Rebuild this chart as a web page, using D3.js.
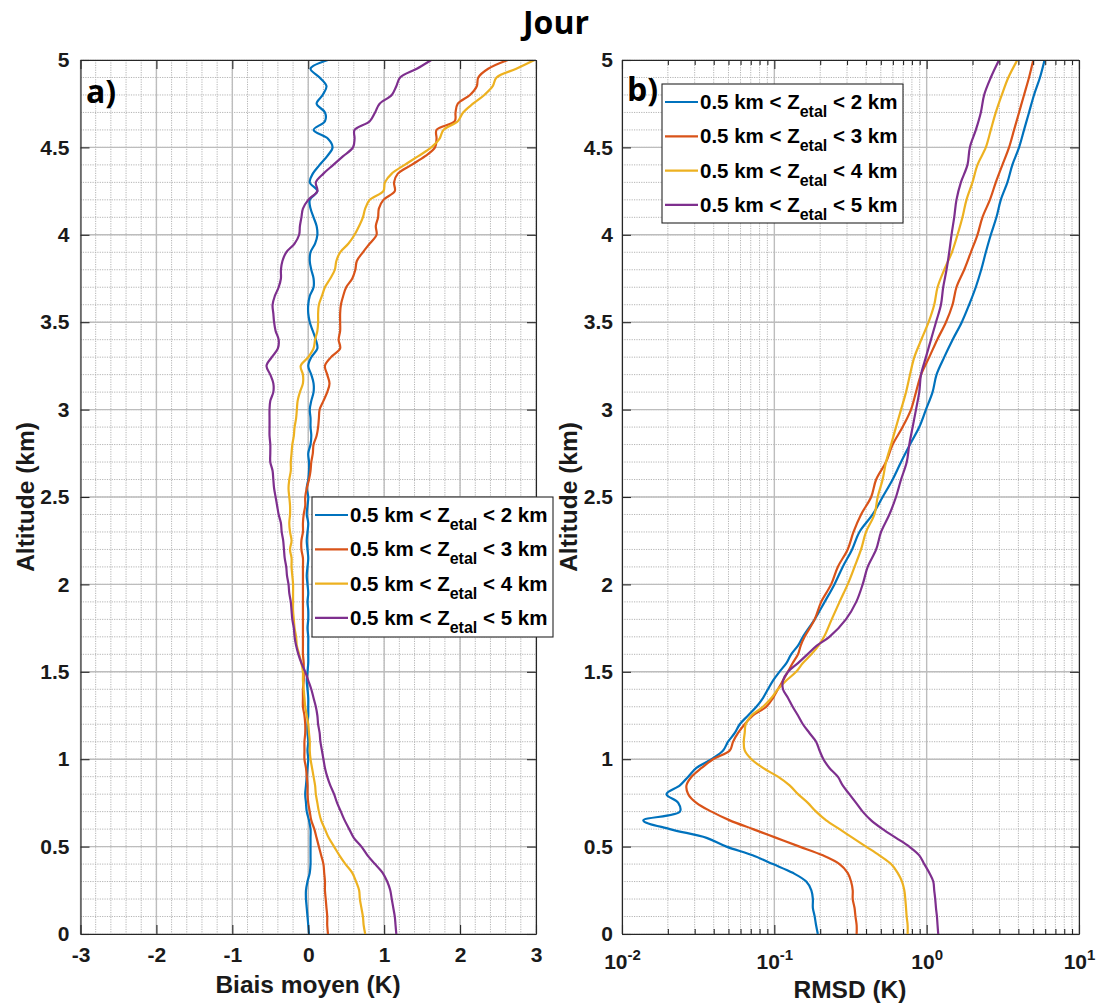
<!DOCTYPE html>
<html><head><meta charset="utf-8">
<script src="https://cdn.jsdelivr.net/npm/d3@7"></script>
<style>body{margin:0;background:#fff}svg{display:block}</style>
</head><body>
<svg id="chart" width="1099" height="1005"></svg>
<script>
// ---------------- DATA ----------------
const title = "Jour";
const seriesNames = ["0.5 km < Zetal < 2 km","0.5 km < Zetal < 3 km","0.5 km < Zetal < 4 km","0.5 km < Zetal < 5 km"];
const seriesUpper = ["2","3","4","5"];
const seriesColors = ["#0072BD","#D95319","#EDB120","#7E2F8E"];

const biasTicks = [-3,-2,-1,0,1,2,3];
const altTicks = [0,0.5,1,1.5,2,2.5,3,3.5,4,4.5,5];
const rmsdTicks = [0.01,0.1,1,10];
const rmsdTickExp = ["-2","-1","0","1"];

// altitude (km) for panel a
const altA = [0,0.05,0.1,0.15,0.2,0.25,0.3,0.35,0.4,0.45,0.5,0.55,0.6,0.65,0.7,0.75,0.8,0.85,0.9,0.95,
1,1.05,1.1,1.15,1.2,1.25,1.3,1.35,1.4,1.45,1.5,1.55,1.6,1.65,1.7,1.75,1.8,1.85,1.9,1.95,
2,2.05,2.1,2.15,2.2,2.25,2.3,2.35,2.4,2.45,2.5,2.55,2.6,2.65,2.7,2.75,2.8,2.85,2.9,2.95,
3,3.05,3.1,3.15,3.2,3.25,3.3,3.35,3.4,3.45,3.5,3.55,3.6,3.65,3.7,3.75,3.8,3.85,3.9,3.95,
4,4.05,4.1,4.15,4.2,4.25,4.3,4.35,4.4,4.45,4.5,4.55,4.6,4.65,4.7,4.75,4.8,4.85,4.9,4.95,5];

// Biais moyen (K)
const biasZ2 = [0.01,0,-0.01,-0.02,-0.03,-0.03,-0.01,0.02,0.03,0.03,0.03,0.03,0.03,0.01,-0.02,-0.03,-0.04,-0.03,-0.02,-0.01,
0,-0.01,0,-0.01,-0.01,0,0,0,-0.01,-0.02,-0.01,0,0,0,0,-0.01,0,0,-0.01,0,
-0.01,-0.02,-0.01,0,-0.01,-0.02,-0.01,0,-0.02,-0.01,0,-0.02,0,0.01,0.01,0,0.03,0.04,0.03,0.03,
0.02,0.04,0.07,0.07,0.04,0,0.04,0.12,0.10,0.06,0.02,0,0,0.02,0.07,0.07,0.04,0.02,0.03,0.09,
0.12,0.11,0.07,0.03,0.02,0.12,0.02,0.06,0.15,0.25,0.32,0.26,0.07,0.22,0.22,0.11,0.19,0.24,0.15,0.03,0.26];
const biasZ3 = [0.26,0.25,0.25,0.24,0.23,0.22,0.22,0.21,0.20,0.17,0.14,0.11,0.08,0.04,0.02,0,-0.01,-0.01,-0.02,-0.03,
-0.05,-0.05,-0.05,-0.04,-0.04,-0.05,-0.07,-0.07,-0.07,-0.06,-0.06,-0.06,-0.07,-0.07,-0.07,-0.07,-0.07,-0.07,-0.07,-0.07,
-0.07,-0.07,-0.07,-0.07,-0.09,-0.09,-0.07,-0.07,-0.06,-0.04,-0.04,-0.02,0.01,0.03,0.04,0.06,0.07,0.11,0.13,0.14,
0.15,0.20,0.25,0.28,0.25,0.22,0.30,0.42,0.40,0.42,0.42,0.42,0.43,0.46,0.50,0.58,0.62,0.64,0.72,0.81,
0.90,0.89,0.92,0.93,0.99,1.14,1.13,1.18,1.36,1.54,1.67,1.69,1.69,1.93,1.94,1.97,2.13,2.22,2.24,2.37,2.63];
const biasZ4 = [0.75,0.73,0.72,0.70,0.68,0.67,0.63,0.58,0.49,0.41,0.34,0.27,0.22,0.17,0.14,0.12,0.10,0.09,0.07,0.05,
0.03,0.02,0.02,0.01,0,-0.02,-0.04,-0.05,-0.06,-0.07,-0.07,-0.09,-0.12,-0.15,-0.16,-0.18,-0.19,-0.20,-0.20,-0.20,
-0.20,-0.21,-0.22,-0.22,-0.24,-0.22,-0.24,-0.25,-0.24,-0.24,-0.25,-0.26,-0.25,-0.23,-0.23,-0.22,-0.21,-0.19,-0.18,-0.16,
-0.15,-0.14,-0.11,-0.07,-0.07,-0.10,0,0.07,0.09,0.12,0.13,0.13,0.14,0.18,0.22,0.29,0.35,0.37,0.42,0.53,
0.61,0.67,0.72,0.75,0.81,0.99,1.01,1.10,1.27,1.45,1.62,1.73,1.78,1.97,2.04,2.17,2.32,2.43,2.48,2.74,2.98];
const biasZ5 = [1.16,1.15,1.14,1.12,1.10,1.08,1.04,0.98,0.88,0.78,0.70,0.60,0.54,0.48,0.43,0.38,0.34,0.29,0.25,0.22,
0.20,0.18,0.16,0.15,0.13,0.12,0.10,0.07,0.04,0,-0.04,-0.09,-0.13,-0.16,-0.18,-0.19,-0.21,-0.22,-0.23,-0.25,
-0.26,-0.28,-0.29,-0.31,-0.32,-0.33,-0.35,-0.36,-0.39,-0.41,-0.43,-0.45,-0.46,-0.47,-0.50,-0.50,-0.50,-0.51,-0.51,-0.51,
-0.51,-0.50,-0.46,-0.46,-0.50,-0.55,-0.48,-0.40,-0.39,-0.43,-0.45,-0.46,-0.47,-0.44,-0.39,-0.36,-0.36,-0.34,-0.29,-0.18,
-0.12,-0.11,-0.09,-0.07,0,0.12,0.10,0.20,0.33,0.46,0.59,0.61,0.61,0.81,0.88,0.94,1.10,1.16,1.21,1.43,1.62];

// altitude (km) for panel b
const altB = [0,0.05,0.1,0.15,0.2,0.25,0.3,0.35,0.4,0.45,0.5,0.55,0.6,0.65,0.7,0.75,0.8,0.85,0.9,0.95,
1,1.05,1.1,1.15,1.2,1.25,1.3,1.35,1.4,1.45,1.5,1.55,1.6,1.65,1.7,
1.8,1.9,2,2.1,2.2,2.3,2.4,2.5,2.6,2.7,2.8,2.9,3,3.1,3.2,3.3,3.4,3.5,3.6,3.7,3.8,3.9,4,4.1,4.2,4.3,4.4,4.5,4.6,4.7,4.8,4.9,5];

// RMSD (K)
const rmsdZ2 = [0.193,0.188,0.184,0.179,0.179,0.175,0.162,0.132,0.098,0.072,0.0485,0.0359,0.0206,0.0138,0.024,0.0234,0.0196,0.024,0.0272,0.0308,
0.0387,0.0461,0.0497,0.055,0.0593,0.0672,0.0762,0.0842,0.0908,0.098,0.108,0.120,0.129,0.143,0.154,
0.184,0.214,0.248,0.281,0.324,0.362,0.442,0.514,0.598,0.679,0.777,0.894,0.989,1.093,1.161,1.304,1.48,1.70,1.90,2.10,2.28,2.445,2.637,2.870,3.066,3.388,3.652,4.041,4.357,4.698,5.066,5.544,5.945];
const rmsdZ3 = [0.347,0.347,0.341,0.336,0.327,0.327,0.319,0.303,0.268,0.208,0.1465,0.103,0.0724,0.051,0.0387,0.0308,0.0272,0.0265,0.0286,0.0333,
0.0396,0.051,0.0536,0.0578,0.0639,0.0724,0.0886,0.098,0.1056,0.1139,0.1228,0.132,0.143,0.149,0.158,
0.184,0.203,0.236,0.261,0.303,0.331,0.371,0.432,0.466,0.541,0.598,0.695,0.789,0.851,0.918,1.04,1.173,1.338,1.478,1.569,1.763,1.950,2.155,2.323,2.60,2.844,3.142,3.474,3.747,4.041,4.357,4.698,5.012];
const rmsdZ4 = [0.750,0.750,0.739,0.732,0.724,0.713,0.689,0.645,0.584,0.489,0.400,0.327,0.268,0.219,0.188,0.166,0.143,0.126,0.1056,0.0842,
0.0707,0.0639,0.063,0.0639,0.0649,0.0707,0.0842,0.0956,0.1056,0.1198,0.139,0.154,0.175,0.195,0.212,
0.238,0.268,0.303,0.336,0.371,0.400,0.454,0.477,0.514,0.541,0.584,0.629,0.679,0.732,0.777,0.830,0.922,1.029,1.121,1.179,1.304,1.465,1.594,1.718,1.825,1.998,2.155,2.445,2.637,2.844,3.113,3.438,3.939];
const rmsdZ5 = [1.191,1.179,1.168,1.151,1.138,1.121,1.105,1.04,0.965,0.894,0.769,0.629,0.514,0.432,0.380,0.344,0.311,0.281,0.261,0.230,
0.210,0.198,0.188,0.170,0.154,0.143,0.132,0.123,0.114,0.114,0.123,0.143,0.165,0.190,0.230,
0.295,0.345,0.380,0.410,0.466,0.502,0.569,0.629,0.679,0.740,0.769,0.809,0.851,0.894,0.918,0.989,1.067,1.151,1.241,1.284,1.350,1.406,1.456,1.516,1.569,1.677,1.853,1.921,2.103,2.268,2.384,2.637,2.988];

const biasSeries = [biasZ2, biasZ3, biasZ4, biasZ5];
const rmsdSeries = [rmsdZ2, rmsdZ3, rmsdZ4, rmsdZ5];

// ---------------- DRAW ----------------
const svg = d3.select("#chart");
const FONT = "'Liberation Sans', Arial, sans-serif";
const AX = "#262626";
const plotTop = 60, plotBottom = 934;
const y = d3.scaleLinear().domain([0,5]).range([plotBottom, plotTop]);
const xA = d3.scaleLinear().domain([-3,3]).range([80.5,536]);
const xB = d3.scaleLog().domain([0.01,10]).range([622,1079]);

svg.append("text").attr("x",556).attr("y",34).attr("text-anchor","middle")
  .attr("font-family","'Open Sans', sans-serif").attr("font-weight",700).attr("font-size",32)
  .attr("fill","#000").text(title);

function panel(id, x, xMinor, xMajor, altArr, series, isLog) {
  const [x0,x1] = x.range();
  const g = svg.append("g");
  g.append("defs").append("clipPath").attr("id","clip"+id)
    .append("rect").attr("x",x0).attr("y",plotTop).attr("width",x1-x0).attr("height",plotBottom-plotTop);
  const grid = g.append("g");
  grid.selectAll(".vmin").data(xMinor).join("line")
    .attr("x1",d=>x(d)).attr("x2",d=>x(d)).attr("y1",plotTop).attr("y2",plotBottom)
    .attr("stroke","#b4b4b4").attr("stroke-width",1).attr("stroke-dasharray","1.2,1.2");
  grid.selectAll(".hmin").data(y.ticks(50)).join("line")
    .attr("x1",x0).attr("x2",x1).attr("y1",d=>y(d)).attr("y2",d=>y(d))
    .attr("stroke","#b4b4b4").attr("stroke-width",1).attr("stroke-dasharray","1.2,1.2");
  grid.selectAll(".vmaj").data(xMajor).join("line")
    .attr("x1",d=>x(d)).attr("x2",d=>x(d)).attr("y1",plotTop).attr("y2",plotBottom)
    .attr("stroke","#bdbdbd").attr("stroke-width",1.4);
  grid.selectAll(".hmaj").data(altTicks).join("line")
    .attr("x1",x0).attr("x2",x1).attr("y1",d=>y(d)).attr("y2",d=>y(d))
    .attr("stroke","#bdbdbd").attr("stroke-width",1.4);

  const line = d3.line().x(d=>x(d[1])).y(d=>y(d[0])).curve(d3.curveCatmullRom.alpha(0.5));
  const cg = g.append("g").attr("clip-path",`url(#clip${id})`);
  series.forEach((s,i)=>{
    cg.append("path").datum(altArr.map((a,k)=>[a,s[k]]))
      .attr("d",line).attr("fill","none").attr("stroke",seriesColors[i])
      .attr("stroke-width",2.2).attr("stroke-linejoin","round");
  });

  const left = g.append("g").attr("transform",`translate(${x0},0)`)
    .call(d3.axisLeft(y).tickValues(altTicks).tickFormat(d=>String(d)).tickSizeInner(-9).tickSizeOuter(0).tickPadding(isLog?9:11));
  const right = g.append("g").attr("transform",`translate(${x1},0)`)
    .call(d3.axisRight(y).tickValues(altTicks).tickFormat("").tickSizeInner(-9).tickSizeOuter(0));
  const bot = g.append("g").attr("transform",`translate(0,${plotBottom})`)
    .call(d3.axisBottom(x).tickValues(xMajor).tickFormat(isLog?"":(d=>String(d))).tickSizeInner(-9).tickSizeOuter(0).tickPadding(isLog?20:13));
  const topAx = g.append("g").attr("transform",`translate(0,${plotTop})`)
    .call(d3.axisTop(x).tickValues(xMajor).tickFormat("").tickSizeInner(-9).tickSizeOuter(0));
  const extra = [];
  if (isLog) {
    extra.push(g.append("g").attr("transform",`translate(0,${plotBottom})`)
      .call(d3.axisBottom(x).tickValues(xMinor).tickFormat("").tickSizeInner(-5).tickSizeOuter(0)));
    extra.push(g.append("g").attr("transform",`translate(0,${plotTop})`)
      .call(d3.axisTop(x).tickValues(xMinor).tickFormat("").tickSizeInner(-5).tickSizeOuter(0)));
    extra.forEach(e=>e.select(".domain").remove());
    bot.selectAll(".tick text").each(function(d){
      const t = d3.select(this);
      t.text(null);
      t.append("tspan").text("10");
      t.append("tspan").attr("dy",-9).attr("font-size",15).text(rmsdTickExp[rmsdTicks.indexOf(d)]);
    });
  }
  [left,right,bot,topAx,...extra].forEach(a=>{
    a.selectAll("path,line").attr("stroke",AX).attr("stroke-width",1.1);
    a.selectAll("text").attr("font-family",FONT).attr("font-weight",700).attr("font-size",21).attr("fill","#1a1a1a");
  });
  return g;
}

const minorA = xA.ticks(30);
panel("A", xA, minorA, biasTicks, altA, biasSeries, false);
const minorB = xB.ticks().filter(d=>rmsdTicks.indexOf(d)<0);
panel("B", xB, minorB, rmsdTicks, altB, rmsdSeries, true);

function axLabel(txt, x, yy, rot) {
  const t = svg.append("text").attr("font-family",FONT).attr("font-weight",700).attr("font-size",24.5)
    .attr("fill","#1a1a1a").attr("text-anchor","middle").text(txt);
  if (rot) t.attr("transform",`translate(${x},${yy}) rotate(-90)`);
  else t.attr("x",x).attr("y",yy);
}
axLabel("Biais moyen (K)", 308, 993, false);
axLabel("RMSD (K)", 850, 998, false);
axLabel("Altitude (km)", 34, 497, true);
axLabel("Altitude (km)", 577, 497, true);

svg.append("text").attr("x",86).attr("y",103).attr("font-family","'Open Sans', sans-serif")
  .attr("font-weight",700).attr("font-size",32).attr("fill","#000").text("a)");
svg.append("text").attr("x",627).attr("y",101).attr("font-family","'Open Sans', sans-serif")
  .attr("font-weight",700).attr("font-size",32).attr("fill","#000").text("b)");

function legend(lx, ly, w, h) {
  const g = svg.append("g");
  g.append("rect").attr("x",lx).attr("y",ly).attr("width",w).attr("height",h)
    .attr("fill","#fff").attr("stroke",AX).attr("stroke-width",1.1);
  seriesUpper.forEach((u,i)=>{
    const cy = ly + 18 + i*34.3;
    g.append("line").attr("x1",lx+3).attr("x2",lx+36).attr("y1",cy).attr("y2",cy)
      .attr("stroke",seriesColors[i]).attr("stroke-width",2.2);
    const t = g.append("text").attr("x",lx+38).attr("y",cy+7)
      .attr("font-family",FONT).attr("font-weight",700).attr("font-size",20.5).attr("fill","#000");
    t.append("tspan").text("0.5 km < Z");
    t.append("tspan").attr("dy",8).attr("font-size",16).text("etal");
    t.append("tspan").attr("dy",-8).text("  < " + u + " km");
  });
}
legend(312, 497, 241, 140);
legend(662, 84, 241, 139);
</script>
</body></html>
